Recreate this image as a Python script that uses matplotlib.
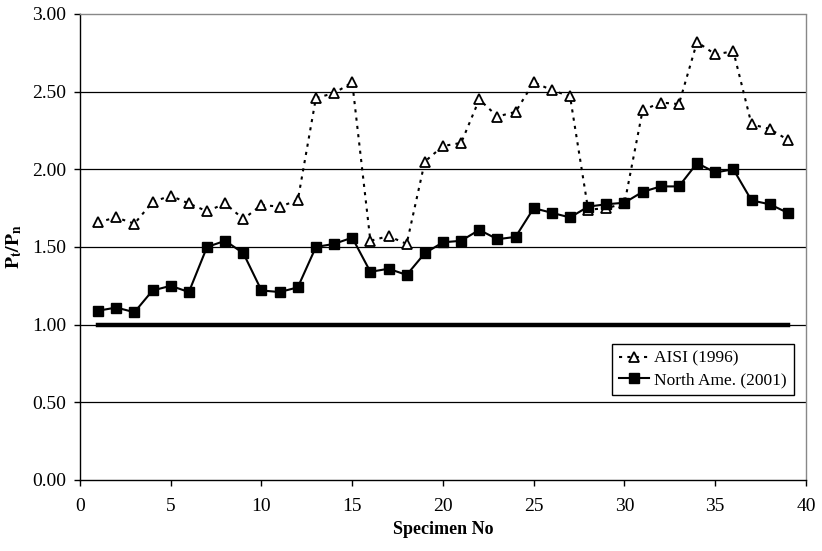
import matplotlib
matplotlib.use('Agg')
import matplotlib.pyplot as plt

# specimen numbers and Pt/Pn ratios
specimen = list(range(1, 40))
aisi = [1.66, 1.69, 1.65, 1.79, 1.83, 1.78, 1.73, 1.78, 1.68, 1.77,
        1.76, 1.80, 2.46, 2.49, 2.56, 1.54, 1.57, 1.52, 2.05, 2.15,
        2.17, 2.45, 2.34, 2.37, 2.56, 2.51, 2.47, 1.74, 1.75, 1.78,
        2.38, 2.43, 2.42, 2.82, 2.74, 2.76, 2.29, 2.26, 2.19]
north_ame = [1.09, 1.11, 1.08, 1.22, 1.25, 1.21, 1.50, 1.54, 1.46, 1.22,
             1.21, 1.24, 1.50, 1.52, 1.56, 1.34, 1.36, 1.32, 1.46, 1.53,
             1.54, 1.61, 1.55, 1.565, 1.75, 1.72, 1.69, 1.76, 1.775, 1.785,
             1.855, 1.89, 1.89, 2.04, 1.98, 2.00, 1.80, 1.775, 1.72]
unity = [1.0] * len(specimen)

plt.rcParams['font.family'] = 'Liberation Serif'
plt.rcParams['mathtext.fontset'] = 'stix'

fig = plt.figure(figsize=(8.22, 5.51), dpi=100)
ax = fig.add_axes([0.0973, 0.1289, 0.8832, 0.8457])

for y in [0.5, 1.0, 1.5, 2.0, 2.5]:
    ax.axhline(y, color='black', linewidth=0.9, zorder=1)

ax.plot(specimen, unity, color='black', linewidth=3.2, zorder=2)
ax.plot(specimen, aisi, color='black', linestyle=(0, (1.5, 2.5)), linewidth=1.5,
        marker='^', markersize=6.5, markerfacecolor='white', markeredgecolor='black',
        markeredgewidth=1.3, label='AISI (1996)', zorder=3)
ax.plot(specimen, north_ame, color='black', linestyle='-', linewidth=1.5,
        marker='s', markersize=7, markerfacecolor='black', markeredgecolor='black',
        label='North Ame. (2001)', zorder=3)

ax.set_xlim(0, 40)
ax.set_ylim(0, 3.0)
ax.set_xticks(range(0, 41, 5))
ax.set_yticks([0, 0.5, 1.0, 1.5, 2.0, 2.5, 3.0])
ax.set_yticklabels(['0.00', '0.50', '1.00', '1.50', '2.00', '2.50', '3.00'])
ax.tick_params(direction='out', length=4, width=1, labelsize=14, pad=6)
ax.tick_params(axis='x', pad=9)

for side in ['top', 'right']:
    ax.spines[side].set_color('#888888')
    ax.spines[side].set_linestyle((0, (1, 1)))
    ax.spines[side].set_linewidth(1.0)
for side in ['left', 'bottom']:
    ax.spines[side].set_color('black')
    ax.spines[side].set_linewidth(1.0)

ax.set_xlabel('Specimen No', fontsize=13, fontweight='bold', labelpad=4)
ax.set_ylabel(r'$\mathbf{P_t/P_n}$', fontsize=14, labelpad=6)

leg = ax.legend(loc='lower right', bbox_to_anchor=(0.983, 0.182), fontsize=12.5,
                frameon=True, fancybox=False, edgecolor='black', framealpha=1,
                handlelength=1.7, handletextpad=0.3, borderpad=0.4,
                labelspacing=0.3, borderaxespad=0)
leg.get_frame().set_linewidth(1.0)

fig.savefig('out.png', dpi=100)
